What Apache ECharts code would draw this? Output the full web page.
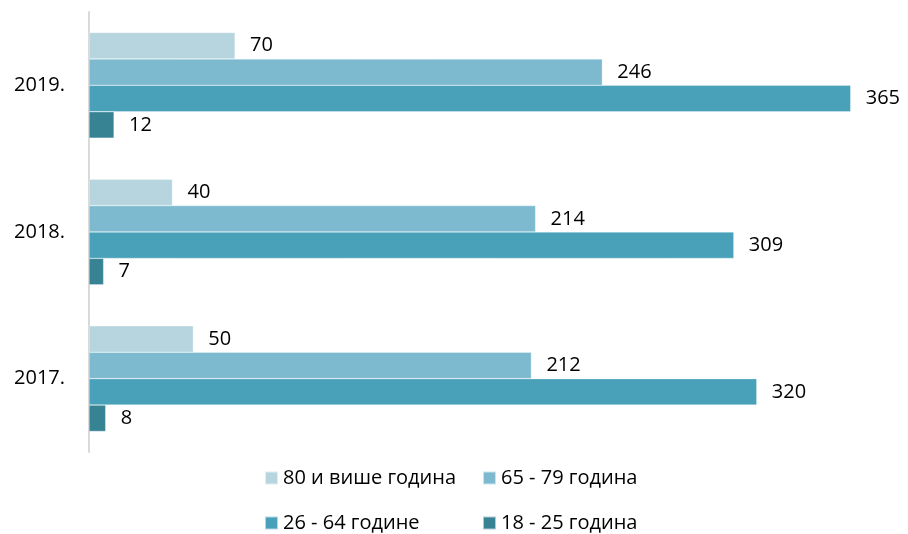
<!DOCTYPE html>
<html><head><meta charset="utf-8">
<script src="https://cdn.jsdelivr.net/npm/echarts@6/dist/echarts.min.js"></script>
<style>html,body{margin:0;padding:0;background:#fff}#c{width:908px;height:534px}</style>
</head><body><div id="c"></div>
<script>
var categories = ['2017.', '2018.', '2019.'];
var seriesNames = ['80 и више година', '65 - 79 година', '26 - 64 године', '18 - 25 година'];
var v80plus = [50, 40, 70];
var v65_79 = [212, 214, 246];
var v26_64 = [320, 309, 365];
var v18_25 = [8, 7, 12];
var colors = ['#B7D5DF', '#7DBACF', '#48A0B9', '#378394'];
var values = [v80plus, v65_79, v26_64, v18_25];

var font = 'Open Sans';
var chart = echarts.init(document.getElementById('c'));
var series = seriesNames.map(function (n, i) {
  return {
    name: n, type: 'bar', data: values[i], barGap: '0%', barCategoryGap: '28%',
    itemStyle: { color: colors[i], borderColor: 'rgba(255,255,255,0.6)', borderWidth: 0.5 },
    label: { show: true, position: 'right', distance: 15, color: '#000', fontSize: 20, fontFamily: font },
    animation: false
  };
});
function lg(name, left, top) {
  return { data: [name], left: left, top: top, itemWidth: 13, itemHeight: 13, itemGap: 0,
    icon: 'rect', textStyle: { fontSize: 20, color: '#000', fontFamily: font } };
}
chart.setOption({
  animation: false,
  color: colors,
  grid: { left: 89, right: 26, top: 12, bottom: 82 },
  xAxis: { type: 'value', min: 0, max: 380, show: false },
  yAxis: {
    type: 'category', data: categories,
    axisLine: { show: true, lineStyle: { color: '#D9D9D9', width: 2 } },
    axisTick: { show: false },
    axisLabel: { color: '#000', fontSize: 20, fontFamily: font, margin: 24 }
  },
  legend: [
    lg('80 и више година', 259, 463),
    lg('65 - 79 година', 477, 463),
    lg('26 - 64 године', 259, 508),
    lg('18 - 25 година', 477, 508)
  ],
  series: series
});
</script></body></html>
